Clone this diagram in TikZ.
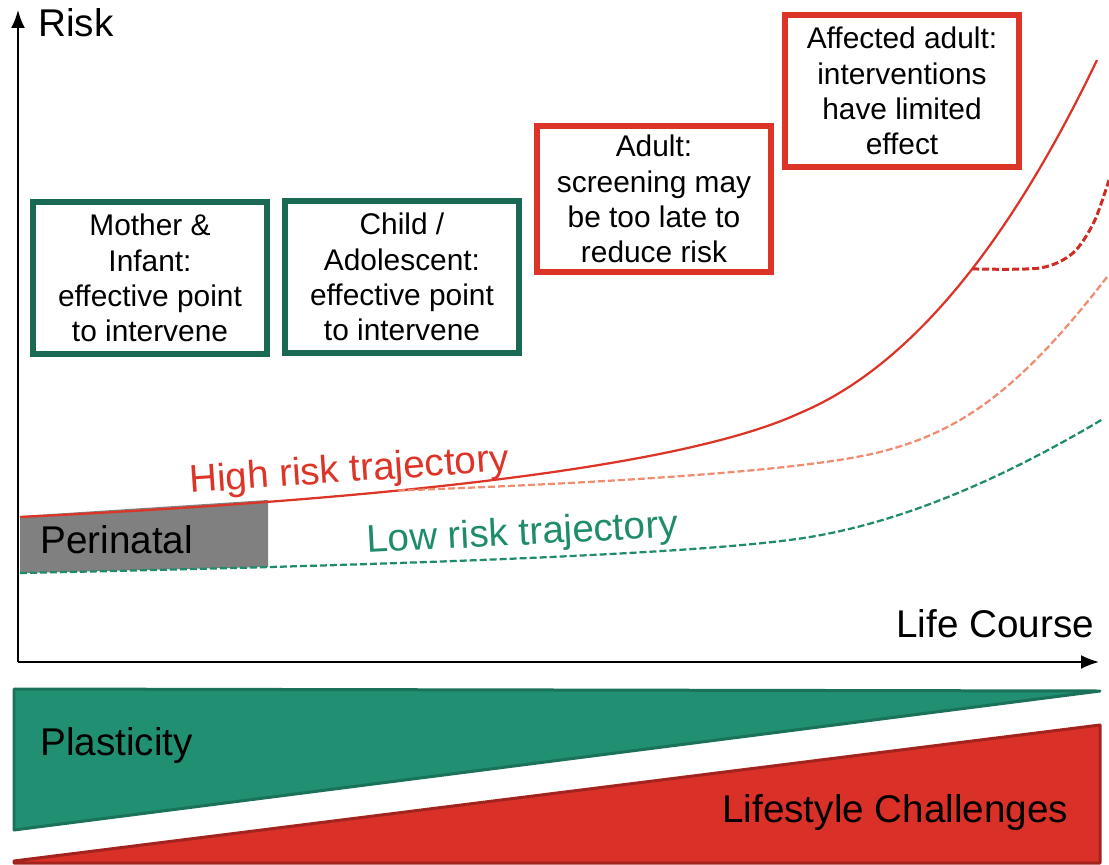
\documentclass[tikz,border=0pt]{standalone}
\usepackage{fontspec}
\setmainfont{Liberation Sans}
\usetikzlibrary{arrows.meta}

\definecolor{riskred}{RGB}{221,52,40}
\definecolor{darkred}{RGB}{205,45,35}
\definecolor{salmon}{RGB}{240,140,112}
\definecolor{boxgreen}{RGB}{25,105,85}
\definecolor{lowgreen}{RGB}{30,140,108}
\definecolor{plastgreen}{RGB}{33,143,113}
\definecolor{lifered}{RGB}{217,48,40}

\begin{document}
\begin{tikzpicture}[x=0.02cm,y=-0.02cm,
    stage/.style={draw=#1,line width=0.11cm,minimum width=4.68cm,minimum height=3.04cm,
      align=center,font=\fontsize{17}{20}\selectfont},
    big/.style={inner sep=0pt,anchor=base west,font=\fontsize{22}{26}\selectfont},
    traj/.style={line width=0.045cm},
    trajdash/.style={traj,dash pattern=on 0.14cm off 0.06cm},
    axis/.style={line width=0.04cm,-{Latex[length=0.36cm,width=0.28cm]}}]
  \useasboundingbox (0,0) rectangle (1109,865);

  % perinatal band
  \fill[black!50] (20,516) -- (268,500) -- (268,567) -- (20,573) -- cycle;
  \node[big] (peri) at (40,553) {Perinatal};

  % axes
  \coordinate (origin) at (18,662);
  \coordinate (ytop) at (18,10);
  \coordinate (xend) at (1099,662);
  \draw[axis] (origin) -- (ytop);
  \draw[axis] (origin) -- (xend);
  \node[big] (risk) at (38,37) {Risk};
  \node[big] (course) at (896,637) {Life Course};

  % trajectories
  \draw[riskred,traj] (20,517) .. controls (434,497) and (694,462) .. coordinate[pos=0.35] (lowfork)
    (800,413) .. controls (907,368) and (1006,250) .. coordinate[pos=0.56] (highfork) (1097,60);
  \draw[darkred,trajdash,line width=0.06cm] plot[smooth] coordinates {(highfork) (1040,268)
    (1073,253) (1094,222) (1109,180)};
  \draw[salmon,trajdash] (lowfork) .. controls (657,481) and (817,468) .. (880,452)
    .. controls (960,432) and (1020,390) .. (1107,277);
  \draw[lowgreen,trajdash] (20,573) .. controls (457,564) and (720,552) .. (810,537)
    .. controls (900,522) and (997,482) .. (1103,419);
  \node[big,rotate=4,text=riskred] (high) at (190,493) {High risk trajectory};
  \node[big,rotate=3,text=lowgreen] (low) at (367,553) {Low risk trajectory};

  % stages
  \node[stage=boxgreen] (mother) at (150,278) {Mother \&\\Infant:\\effective point\\to intervene};
  \node[stage=boxgreen] (child) at (402,277) {Child /\\Adolescent:\\effective point\\to intervene};
  \node[stage=riskred,minimum height=2.92cm] (adult) at (654,199) {Adult:\\screening may\\be too late to\\reduce risk};
  \node[stage=riskred] (affected) at (902,91) {Affected adult:\\interventions\\have limited\\effect};

  % plasticity vs lifestyle wedges
  \filldraw[fill=plastgreen,draw=plastgreen!80!black,line width=0.06cm,line join=round]
    (14,689) -- (1100,691) -- (14,830) -- cycle;
  \filldraw[fill=lifered,draw=lifered!75!black,line width=0.06cm,line join=round]
    (14,861) -- (1100,725) -- (1100,863) -- (14,863) -- cycle;
  \node[big] (plast) at (40,755) {Plasticity};
  \node[big] (lifestyle) at (722,822) {Lifestyle Challenges};
\end{tikzpicture}
\end{document}
